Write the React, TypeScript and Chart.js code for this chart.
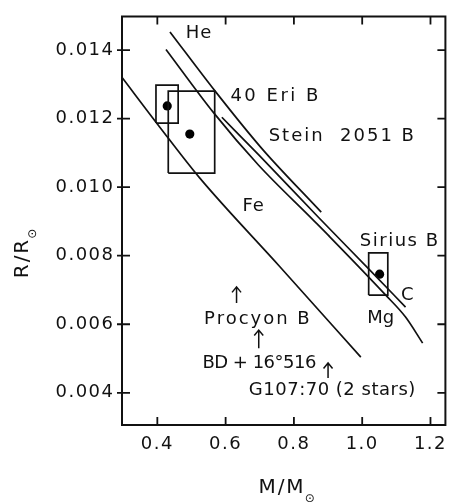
import React, { useEffect, useRef } from "react";
import { Chart, registerables } from "chart.js";

Chart.register(...registerables);

// ---- axes ----
const X_TICKS = [0.4, 0.6, 0.8, 1.0, 1.2];
const X_TICK_LABELS = ["0.4", "0.6", "0.8", "1.0", "1.2"];
const Y_TICKS = [0.004, 0.006, 0.008, 0.01, 0.012, 0.014];
const Y_TICK_LABELS = ["0.004", "0.006", "0.008", "0.010", "0.012", "0.014"];
const X_MIN = 0.2965;
const X_MAX = 1.2437;
const Y_MIN = 0.00306;
const Y_MAX = 0.01498;

// ---- theoretical mass-radius curves (M/Msun, R/Rsun) ----
const heMass = [0.437, 0.571, 0.705, 0.88];
const heRadius = [0.01453, 0.01278, 0.01114, 0.00927];
const cMass = [0.589, 0.697, 0.871, 1.0225, 1.127];
const cRadius = [0.01204, 0.01094, 0.00913, 0.00758, 0.0065];
const mgMass = [0.4253, 0.5658, 0.6967, 0.8567, 0.9004, 1.069, 1.127, 1.177];
const mgRadius = [0.01402, 0.01216, 0.01064, 0.00904, 0.0086, 0.00685, 0.00621, 0.00545];
const feMass = [0.2936, 0.4073, 0.5239, 0.757, 0.996];
const feRadius = [0.01324, 0.01175, 0.01027, 0.0077, 0.00504];

// ---- observed white dwarfs with error boxes ----
const starNames = ["40 Eri B", "Stein 2051 B", "Sirius B"];
const starMass = [0.429, 0.495, 1.051];
const starMassLow = [0.396, 0.432, 1.019];
const starMassHigh = [0.461, 0.568, 1.075];
const starRadius = [0.01237, 0.01155, 0.00746];
const starRadiusLow = [0.01187, 0.01041, 0.00685];
const starRadiusHigh = [0.01298, 0.0128, 0.00808];

// ---- lower limits (arrows) ----
const arrowMass = [0.632, 0.697, 0.9];
const arrowRadiusBase = [0.00662, 0.0053, 0.00443];
const arrowRadiusTip = [0.00709, 0.00583, 0.00487];

// ---- text annotations ----
const labelTexts = ["He", "40 Eri B", "Stein  2051 B", "Fe", "Sirius B", "C", "Mg", "Procyon B", "BD + 16°516", "G107:70 (2 stars)"];
const labelMass = [0.522, 0.614, 0.726, 0.682, 0.993, 1.132, 1.0545, 0.537, 0.532, 0.668];
const labelRadius = [0.01448, 0.01266, 0.01149, 0.00943, 0.00843, 0.00684, 0.00618, 0.00615, 0.00487, 0.00408];
const labelAlign = ["center", "left", "left", "center", "left", "center", "center", "left", "left", "left"];
const labelSpacing = [1, 2.5, 2, 1, 1.5, 0, 0, 2, -0.5, 0.5];

const INK = "#111";
const FONT = "'DejaVu Sans', sans-serif";

const pts = (xs: number[], ys: number[]) => xs.map((x, i) => ({ x, y: ys[i] }));

const overlay = {
  id: "overlay",
  beforeDraw(chart: any) {
    const { ctx, width, height } = chart;
    ctx.save();
    ctx.fillStyle = "#fff";
    ctx.fillRect(0, 0, width, height);
    ctx.restore();
    (ctx as any).letterSpacing = "1.5px";
  },
  afterDraw(chart: any) {
    const { ctx, chartArea } = chart;
    const xs = chart.scales.x;
    const ys = chart.scales.y;
    const { left, right, top, bottom } = chartArea;
    ctx.save();
    (ctx as any).letterSpacing = "0px";
    ctx.strokeStyle = INK;
    ctx.fillStyle = INK;
    // frame
    ctx.lineWidth = 2;
    ctx.strokeRect(left, top, right - left, bottom - top);
    // inward ticks
    ctx.lineWidth = 1.8;
    ctx.beginPath();
    X_TICKS.forEach((v) => {
      const p = xs.getPixelForValue(v);
      ctx.moveTo(p, bottom);
      ctx.lineTo(p, bottom - 8);
      ctx.moveTo(p, top);
      ctx.lineTo(p, top + 8);
    });
    Y_TICKS.forEach((v) => {
      const p = ys.getPixelForValue(v);
      ctx.moveTo(left - 5, p);
      ctx.lineTo(left + 8, p);
      ctx.moveTo(right, p);
      ctx.lineTo(right - 8, p);
    });
    ctx.stroke();

    // annotations
    ctx.font = `18px ${FONT}`;
    ctx.textBaseline = "middle";
    labelTexts.forEach((t, i) => {
      (ctx as any).letterSpacing = `${labelSpacing[i]}px`;
      ctx.textAlign = labelAlign[i] as CanvasTextAlign;
      ctx.fillText(t, xs.getPixelForValue(labelMass[i]), ys.getPixelForValue(labelRadius[i]));
    });
    (ctx as any).letterSpacing = "0px";

    // arrows
    ctx.lineWidth = 1.5;
    arrowMass.forEach((m, i) => {
      const x = xs.getPixelForValue(m);
      const yb = ys.getPixelForValue(arrowRadiusBase[i]);
      const yt = ys.getPixelForValue(arrowRadiusTip[i]);
      ctx.beginPath();
      ctx.moveTo(x, yb);
      ctx.lineTo(x, yt);
      ctx.moveTo(x - 4.5, yt + 5.5);
      ctx.lineTo(x, yt);
      ctx.lineTo(x + 4.5, yt + 5.5);
      ctx.stroke();
    });

    // axis titles
    ctx.textBaseline = "alphabetic";
    ctx.textAlign = "center";
    (ctx as any).letterSpacing = "2px";
    ctx.font = `20px ${FONT}`;
    const xt = "M/M";
    const xw = ctx.measureText(xt).width;
    ctx.fillText(xt, 282, 493);
    ctx.save();
    ctx.translate(28, 258);
    ctx.rotate(-Math.PI / 2);
    const yt = "R/R";
    const yw = ctx.measureText(yt).width;
    ctx.fillText(yt, 0, 0);
    (ctx as any).letterSpacing = "0px";
    ctx.font = `12px ${FONT}`;
    ctx.textAlign = "left";
    ctx.fillText("⊙", yw / 2 - 1, 8);
    ctx.restore();
    (ctx as any).letterSpacing = "0px";
    ctx.font = `12px ${FONT}`;
    ctx.textAlign = "left";
    ctx.fillText("⊙", 282 + xw / 2 - 1, 502);
    ctx.restore();
  },
};

export default function App() {
  const ref = useRef<HTMLCanvasElement | null>(null);

  useEffect(() => {
    if (!ref.current) return;
    const curve = (xs: number[], ys: number[]) => ({
      data: pts(xs, ys),
      borderColor: INK,
      borderWidth: 1.7,
      pointRadius: 0,
      cubicInterpolationMode: "monotone",
      fill: false,
    });
    const boxes = starNames.map((_, i) => ({
      data: [
        { x: starMassLow[i], y: starRadiusLow[i] },
        { x: starMassHigh[i], y: starRadiusLow[i] },
        { x: starMassHigh[i], y: starRadiusHigh[i] },
        { x: starMassLow[i], y: starRadiusHigh[i] },
        { x: starMassLow[i], y: starRadiusLow[i] },
      ],
      borderColor: INK,
      borderWidth: 1.7,
      pointRadius: 0,
      tension: 0,
      fill: false,
    }));
    const chart = new Chart(ref.current, {
      type: "line",
      data: {
        datasets: [
          curve(heMass, heRadius),
          curve(cMass, cRadius),
          curve(mgMass, mgRadius),
          curve(feMass, feRadius),
          ...boxes,
          {
            data: pts(starMass, starRadius),
            showLine: false,
            pointRadius: 4.6,
            pointBackgroundColor: "#000",
            pointBorderWidth: 0,
            borderColor: "#000",
          },
        ] as any,
      },
      options: {
        animation: false,
        responsive: true,
        maintainAspectRatio: false,
        events: [],
        layout: { padding: { left: 0, right: 3, top: 16.5, bottom: 0 } },
        plugins: { legend: { display: false }, tooltip: { enabled: false }, title: { display: false } },
        scales: {
          x: {
            type: "linear",
            min: X_MIN,
            max: X_MAX,
            afterBuildTicks: (s: any) => {
              s.ticks = X_TICKS.map((v) => ({ value: v }));
            },
            afterFit: (s: any) => {
              s.height = 77;
              s.paddingLeft = 0;
              s.paddingRight = 0;
            },
            grid: { display: false, drawTicks: false },
            border: { display: false },
            ticks: {
              autoSkip: false,
              maxRotation: 0,
              padding: 9,
              color: INK,
              font: { family: FONT, size: 18 },
              callback: (_v: any, i: number) => X_TICK_LABELS[i],
            },
          },
          y: {
            type: "linear",
            min: Y_MIN,
            max: Y_MAX,
            afterBuildTicks: (s: any) => {
              s.ticks = Y_TICKS.map((v) => ({ value: v }));
            },
            afterFit: (s: any) => {
              s.width = 122;
              s.paddingTop = 0;
              s.paddingBottom = 0;
            },
            grid: { display: false, drawTicks: false },
            border: { display: false },
            ticks: {
              autoSkip: false,
              padding: 7.5,
              color: INK,
              font: { family: FONT, size: 18 },
              callback: (_v: any, i: number) => Y_TICK_LABELS[i],
            },
          },
        },
      } as any,
      plugins: [overlay],
    });
    return () => chart.destroy();
  }, []);

  return (
    <div style={{ position: "fixed", left: 0, top: 0, width: 450, height: 502, background: "#fff" }}>
      <canvas ref={ref} />
    </div>
  );
}
